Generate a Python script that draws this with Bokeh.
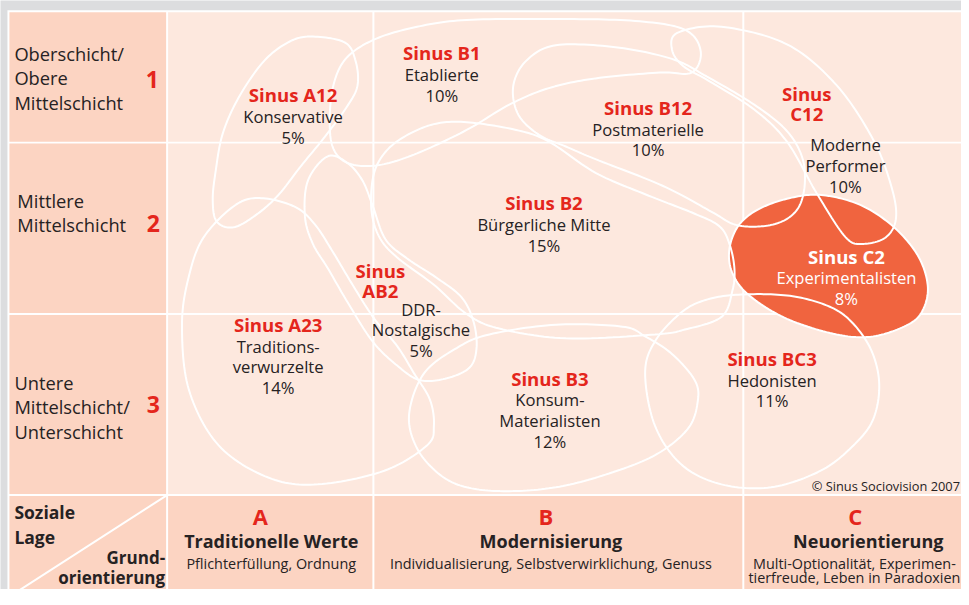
import numpy as np
from bokeh.plotting import figure
from bokeh.models import Range1d
from bokeh.core.properties import value
from bokeh.embed import file_html
from bokeh.resources import INLINE

# ---------------- data ----------------
row_labels = [["Oberschicht/", "Obere", "Mittelschicht"],
              ["Mittlere", "Mittelschicht"],
              ["Untere", "Mittelschicht/", "Unterschicht"]]
row_numbers = ["1", "2", "3"]

col_letters = ["A", "B", "C"]
col_titles = ["Traditionelle Werte", "Modernisierung", "Neuorientierung"]
col_subtitles = [["Pflichterfüllung, Ordnung"],
                 ["Individualisierung, Selbstverwirklichung, Genuss"],
                 ["Multi-Optionalität, Experimen-", "tierfreude, Leben in Paradoxien"]]

corner_top = ["Soziale", "Lage"]
corner_bottom = ["Grund-", "orientierung"]

milieu_codes = ["Sinus A12", "Sinus B1", "Sinus B12", "Sinus\nC12", "Sinus B2",
                "Sinus C2", "Sinus\nAB2", "Sinus A23", "Sinus B3", "Sinus BC3"]
milieu_names = ["Konservative", "Etablierte", "Postmaterielle", "Moderne\nPerformer",
                "Bürgerliche Mitte", "Experimentalisten", "DDR-\nNostalgische",
                "Traditions-\nverwurzelte", "Konsum-\nMaterialisten", "Hedonisten"]
milieu_shares = [5, 10, 10, 10, 15, 8, 5, 14, 12, 11]
highlighted = "Sinus C2"

copyright_text = "© Sinus Sociovision 2007"

# milieu outlines in the social-space diagram (diagram units)
outline_A12 = [(313, 37), (347, 43), (358, 62), (360, 87), (350, 108), (327, 140), (303, 170),
               (280, 200), (258, 220), (235, 233), (218, 227), (214, 205), (217, 175),
               (224, 137), (240, 100), (265, 63), (290, 43)]
outline_B1 = [(377, 40), (420, 27), (470, 20), (560, 19), (640, 21), (690, 30), (706, 52),
              (697, 74), (665, 74), (600, 80), (553, 90), (513, 107), (470, 133), (420, 157),
              (382, 169), (353, 168), (337, 155), (332, 130), (335, 90), (348, 60)]
outline_B12 = [(517, 88), (530, 62), (560, 46), (620, 48), (677, 60), (712, 78), (760, 107),
               (792, 133), (808, 160), (811, 188), (805, 212), (790, 226), (767, 232),
               (740, 230), (717, 217), (667, 190), (600, 163), (570, 150), (543, 138), (522, 117)]
outline_C12 = [(683, 33), (727, 27), (793, 45), (843, 87), (880, 143), (898, 190), (903, 223),
               (893, 243), (870, 250), (852, 243), (823, 198), (793, 145), (760, 112),
               (715, 83), (688, 67), (677, 50)]
outline_B2 = [(387, 157), (407, 140), (437, 127), (470, 125), (520, 133), (553, 145), (600, 177),
              (650, 199), (700, 219), (725, 232), (735, 250), (740, 275), (738, 298), (727, 325),
              (690, 338), (660, 343), (570, 347), (503, 337), (470, 322), (437, 292), (400, 264),
              (382, 243), (374, 215), (376, 180)]
outline_C2 = [(767, 213), (800, 202), (830, 200), (867, 210), (900, 232), (925, 262), (935, 293),
              (930, 318), (915, 333), (880, 345), (843, 343), (793, 327), (755, 303), (738, 280),
              (735, 255), (745, 230)]
outline_AB2 = [(330, 160), (350, 167), (365, 185), (375, 210), (388, 245), (410, 265), (440, 285),
               (465, 305), (477, 330), (480, 357), (473, 377), (450, 388), (423, 390), (400, 375),
               (375, 350), (350, 310), (330, 275), (315, 250), (307, 222), (310, 185)]
outline_A23 = [(237, 210), (263, 203), (297, 212), (317, 230), (335, 258), (355, 292), (377, 327),
               (400, 355), (417, 383), (433, 410), (437, 437), (430, 457), (387, 483), (320, 497),
               (270, 490), (220, 457), (190, 400), (183, 333), (190, 283), (205, 243)]
outline_B3 = [(427, 383), (460, 357), (493, 343), (560, 333), (627, 335), (650, 345), (677, 363),
              (700, 390), (703, 412), (693, 440), (660, 467), (610, 487), (560, 500), (510, 504),
              (470, 500), (443, 487), (420, 460), (412, 425)]
outline_BC3 = [(747, 302), (793, 303), (830, 312), (855, 327), (877, 357), (886, 393), (880, 430),
               (860, 457), (827, 483), (777, 500), (727, 497), (687, 477), (660, 437), (650, 383),
               (660, 350), (687, 320), (713, 307)]
milieu_outlines = [outline_A12, outline_B1, outline_B12, outline_C12, outline_B2,
                   outline_C2, outline_AB2, outline_A23, outline_B3, outline_BC3]

# label anchors (code line, first name line)
code_pos = [(295, 97), (445, 53), (653, 110), (813, 96), (548, 208), (853, 263),
            (383, 277), (280, 333), (554, 388), (778, 368)]
name_pos = [(295, 119), (445, 76), (653, 132), (852, 148), (548, 230), (853, 285),
            (424, 317), (280, 355), (554, 410), (778, 390)]

# ---------------- layout / style ----------------
W, H = 961, 589
FONT = "Open Sans"
RED = "#e4261c"
DARK = "#262223"
HEADER = "#fcd4c2"
INNER = "#fde8de"
FILL_C2 = "#f0643f"
GRAY = "#dcdddf"

col_edges = [8, 168, 376, 749, 990]
row_edges = [11, 146, 322, 508, 613]

p = figure(width=W, height=H, x_range=Range1d(0, 969), y_range=Range1d(605, 0),
           output_backend="svg", toolbar_location=None, min_border=0,
           x_axis_location=None, y_axis_location=None, title=None)
p.grid.visible = False
p.outline_line_color = None
p.background_fill_color = GRAY
p.border_fill_color = GRAY

# white panel
p.quad(left=[col_edges[0] - 1], right=[col_edges[-1]], top=[row_edges[0] - 1], bottom=[row_edges[-1] + 5],
       fill_color="white", line_color=None)

# cells
L, R, T, B, C = [], [], [], [], []
for r in range(4):
    for c in range(4):
        L.append(col_edges[c] + 1)
        R.append(col_edges[c + 1] - 1)
        T.append(row_edges[r] + 1)
        B.append(row_edges[r + 1] - 1)
        C.append(HEADER if (c == 0 or r == 3) else INNER)
p.quad(left=L, right=R, top=T, bottom=B, fill_color=C, line_color=None)

# diagonal in the corner cell
p.segment(x0=[col_edges[1]], y0=[row_edges[3]], x1=[col_edges[0]], y1=[row_edges[4]],
          line_color="white", line_width=2)


def smooth_closed(pts, n=14):
    P = np.asarray(pts, dtype=float)
    m = len(P)
    t = np.linspace(0, 1, n, endpoint=False)[:, None]
    segs = []
    for i in range(m):
        p0, p1, p2, p3 = P[(i - 1) % m], P[i], P[(i + 1) % m], P[(i + 2) % m]
        seg = 0.5 * ((2 * p1) + (-p0 + p2) * t + (2 * p0 - 5 * p1 + 4 * p2 - p3) * t ** 2
                     + (-p0 + 3 * p1 - 3 * p2 + p3) * t ** 3)
        segs.append(seg)
    S = np.vstack(segs)
    S = np.vstack([S, S[:1]])
    return list(S[:, 0]), list(S[:, 1])


curves = [smooth_closed(o) for o in milieu_outlines]
hi = milieu_codes.index(highlighted)
p.patch(x=curves[hi][0], y=curves[hi][1], fill_color=FILL_C2, line_color=None)
p.multi_line(xs=[c[0] for c in curves], ys=[c[1] for c in curves], line_color="white", line_width=2)


def draw_text(xs, ys, texts, size, color, bold=False, align="center"):
    p.text(x=xs, y=ys, text=texts, text_font=value(FONT), text_font_size=value(f"{size}px"),
           text_color=value(color), text_font_style=value("bold" if bold else "normal"),
           text_align=value(align), text_baseline=value("middle"))


# row headers
row_first_y = [54, 205, 392]
row_x = [14, 17, 14]
row_num_y = [81, 229, 415]
for i, lines in enumerate(row_labels):
    ys = [row_first_y[i] + 25.5 * k for k in range(len(lines))]
    draw_text([row_x[i]] * len(lines), ys, lines, 18.3, DARK, align="left")
draw_text([153, 154, 154], row_num_y, row_numbers, 23, RED, bold=True)

# corner cell
draw_text([14, 14], [525, 551], corner_top, 17.5, DARK, bold=True, align="left")
draw_text([166, 166], [572, 593], corner_bottom, 17, DARK, bold=True, align="right")

# column headers
letter_x = [262, 550, 862]
title_x = [273, 555, 875]
sub_x = [273, 555, 861]
draw_text(letter_x, [530] * 3, col_letters, 22, RED, bold=True)
draw_text(title_x, [555] * 3, col_titles, 18, DARK, bold=True)
for i, lines in enumerate(col_subtitles):
    ys = [578 + 15 * k for k in range(len(lines))]
    draw_text([sub_x[i]] * len(lines), ys, lines, 14.4, DARK)

# milieu labels
for i in range(len(milieu_codes)):
    col_code = "white" if milieu_codes[i] == highlighted else RED
    col_name = "white" if milieu_codes[i] == highlighted else DARK
    code_lines = milieu_codes[i].split("\n")
    cx, cy = code_pos[i]
    draw_text([cx] * len(code_lines), [cy + 20.5 * k for k in range(len(code_lines))],
              code_lines, 18.6, col_code, bold=True)
    name_lines = milieu_names[i].split("\n") + [f"{milieu_shares[i]}%"]
    nx, ny = name_pos[i]
    draw_text([nx] * len(name_lines), [ny + 21.3 * k for k in range(len(name_lines))],
              name_lines, 16.6, col_name)

draw_text([818], [499], [copyright_text], 12.8, DARK, align="left")

open("out.html", "w").write(file_html(p, INLINE))
